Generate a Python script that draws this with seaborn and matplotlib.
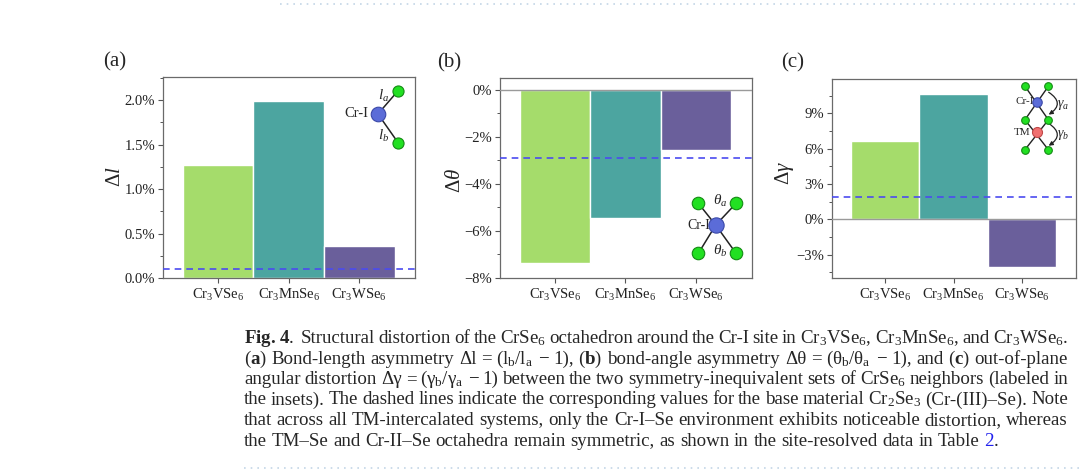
import matplotlib
matplotlib.use("Agg")
import matplotlib.pyplot as plt
import matplotlib.ticker as mticker
from matplotlib.lines import Line2D
import pandas as pd
import seaborn as sns

# values (percent)
materials = ["Cr$_3$VSe$_6$", "Cr$_3$MnSe$_6$", "Cr$_3$WSe$_6$"]
delta_l = [1.27, 1.99, 0.36]
delta_theta = [-7.38, -5.45, -2.56]
delta_gamma = [6.62, 10.64, -4.02]
base_l = 0.10
base_theta = -2.92
base_gamma = 1.92
bar_colors = ["#a5dc6b", "#4ca5a0", "#6a5f9b"]

sns.set_theme(style="ticks")
plt.rcParams["font.family"] = ["Liberation Serif", "DejaVu Serif"]
plt.rcParams["mathtext.fontset"] = "custom"
plt.rcParams["mathtext.rm"] = "Liberation Serif"
plt.rcParams["mathtext.it"] = "Liberation Serif:italic"
plt.rcParams["mathtext.bf"] = "Liberation Serif:bold"

W, H = 1080, 471
fig = plt.figure(figsize=(10.8, 4.71), dpi=100)
fig.patch.set_facecolor("white")

df = pd.DataFrame({"material": materials, "dl": delta_l,
                   "dtheta": delta_theta, "dgamma": delta_gamma})


def fmt_a(v, p):
    return "%.1f%%" % v


def fmt_int(v, p):
    return ("%d%%" % int(round(v))).replace("-", "\u2212")


# (column, base value, ylim, major, minor, formatter, ylabel, tag, box px, label px, tag px)
panels = [
    ("dl", base_l, (0, 2.26), 0.5, 0.25, fmt_a, "\u0394$l$", "(a)",
     (163, 77, 415, 278), (115, 177), (103, 62)),
    ("dtheta", base_theta, (-8, 0.48), 2, 1, fmt_int, "\u0394$\\theta$", "(b)",
     (500, 78.3, 751.7, 277.7), (455, 180), (437, 63)),
    ("dgamma", base_gamma, (-4.96, 11.9), 3, 1.5, fmt_int, "\u0394$\\gamma$", "(c)",
     (831.7, 79.3, 1076, 277.7), (785, 173), (781, 63)),
]

axes = []
for col, base, ylim, major, minor, fmt, ylab, tag, box, lab, tg in panels:
    l, t, r, b = box
    ax = fig.add_axes([l / W, 1 - b / H, (r - l) / W, (b - t) / H])
    sns.barplot(data=df, x="material", y=col, hue="material", palette=bar_colors,
                width=1.0, saturation=1, legend=False, ax=ax, zorder=2)
    if col != "dl":
        ax.axhline(0, color="#9a9a9a", lw=1.0, zorder=3)
    ax.axhline(base, color="#4b4bf0", lw=1.2, ls=(0, (4, 3)), zorder=4)
    ax.set_xlim(-0.78, 2.79)
    ax.set_ylim(*ylim)
    ax.yaxis.set_major_locator(mticker.MultipleLocator(major))
    ax.yaxis.set_minor_locator(mticker.MultipleLocator(minor))
    ax.yaxis.set_major_formatter(mticker.FuncFormatter(fmt))
    ax.tick_params(axis="both", which="major", direction="out", length=3.5, width=0.8,
                   color="#555555", labelsize=10.5, labelcolor="#222222", pad=2)
    ax.tick_params(axis="x", which="major", pad=3)
    ax.tick_params(axis="y", which="minor", direction="out", length=2, width=0.7, color="#555555")
    ax.set_xlabel("")
    ax.set_ylabel("")
    for s in ax.spines.values():
        s.set_color("#6a6a6a")
        s.set_linewidth(0.9)
    fig.text(lab[0] / W, 1 - lab[1] / H, ylab, rotation=90, ha="center", va="center", fontsize=15)
    fig.text(tg[0] / W, 1 - tg[1] / H, tag, ha="left", va="center", fontsize=15)
    axes.append(ax)

GREEN, GEDGE = "#22e022", "#148a14"
BLUE, BEDGE = "#5b6cd8", "#3a48a8"
RED, REDGE = "#f07070", "#c04848"


def atom(ax, p, color, edge, ms):
    ax.plot([p[0]], [p[1]], "o", transform=ax.transAxes, ms=ms, mfc=color, mec=edge,
            mew=0.8, clip_on=False, zorder=6)


def bond(ax, p, q, lw=1.1):
    ax.plot([p[0], q[0]], [p[1], q[1]], color="#222222", lw=lw, transform=ax.transAxes,
            clip_on=False, zorder=5)


# inset (a)
ax = axes[0]
c, g1, g2 = (0.853, 0.816), (0.933, 0.932), (0.933, 0.673)
bond(ax, c, g1)
bond(ax, c, g2)
atom(ax, c, BLUE, BEDGE, 10.5)
atom(ax, g1, GREEN, GEDGE, 8)
atom(ax, g2, GREEN, GEDGE, 8)
ax.text(0.813, 0.816, "Cr-I", transform=ax.transAxes, ha="right", va="center", fontsize=10.5)
ax.text(0.874, 0.905, "$l_a$", transform=ax.transAxes, ha="center", va="center", fontsize=11)
ax.text(0.874, 0.705, "$l_b$", transform=ax.transAxes, ha="center", va="center", fontsize=11)

# inset (b)
ax = axes[1]
c = (0.857, 0.264)
greens = [(0.788, 0.373), (0.938, 0.373), (0.788, 0.122), (0.938, 0.122)]
for g in greens:
    bond(ax, c, g)
atom(ax, c, BLUE, BEDGE, 11)
for g in greens:
    atom(ax, g, GREEN, GEDGE, 9)
ax.text(0.835, 0.264, "Cr-I", transform=ax.transAxes, ha="right", va="center", fontsize=10)
ax.text(0.874, 0.385, "$\\theta_a$", transform=ax.transAxes, ha="center", va="center", fontsize=11)
ax.text(0.874, 0.135, "$\\theta_b$", transform=ax.transAxes, ha="center", va="center", fontsize=11)

# inset (c)
ax = axes[2]
xl, xr = 0.791, 0.887
xm = (xl + xr) / 2
top, mid, bot = 0.965, 0.796, 0.645
blue_c, red_c = (xm, 0.886), (xm, 0.734)
bond(ax, (xl, top), (xr, mid), 1.0)
bond(ax, (xr, top), (xl, mid), 1.0)
bond(ax, (xl, mid), (xr, bot), 1.0)
bond(ax, (xr, mid), (xl, bot), 1.0)
atom(ax, blue_c, BLUE, BEDGE, 6.8)
atom(ax, red_c, RED, REDGE, 7.2)
for g in [(xl, top), (xr, top), (xl, mid), (xr, mid), (xl, bot), (xr, bot)]:
    atom(ax, g, GREEN, GEDGE, 5.5)
ax.text(0.827, 0.886, "Cr-I", transform=ax.transAxes, ha="right", va="center", fontsize=8)
ax.text(0.812, 0.734, "TM", transform=ax.transAxes, ha="right", va="center", fontsize=8)
for y0, y1, lab, ly in [(0.935, 0.822, "$\\gamma_a$", 0.872), (0.778, 0.665, "$\\gamma_b$", 0.720)]:
    ax.annotate("", xy=(0.888, y1), xytext=(0.888, y0), xycoords="axes fraction",
                arrowprops=dict(arrowstyle="-|>", connectionstyle="arc3,rad=-0.75",
                                lw=0.9, color="#222222", mutation_scale=6,
                                shrinkA=0, shrinkB=0))
    ax.text(0.922, ly, lab, transform=ax.transAxes, ha="left", va="center", fontsize=10)

# caption
CAP = 13.6
renderer = fig.canvas.get_renderer()


def caption_line(words, y, justify=True, x0=244, x1=1068):
    texts = [fig.text(x0 / W, 1 - y / H, w, fontsize=CAP, va="baseline", ha="left") for w in words]
    widths = [t.get_window_extent(renderer).width for t in texts]
    if justify:
        gap = (x1 - x0 - sum(widths)) / (len(words) - 1)
    else:
        gap = CAP * 100 / 72 * 0.25
    x = x0
    for t, w in zip(texts, widths):
        t.set_x(x / W)
        x += w + gap
    return x - gap


caption = [
    "$\\mathbf{Fig.}$ $\\mathbf{4}$.  Structural distortion of the CrSe$_6$ octahedron around the Cr-I site in "
    "Cr$_3$VSe$_6$, Cr$_3$MnSe$_6$, and Cr$_3$WSe$_6$.",
    "($\\mathbf{a}$) Bond-length asymmetry \u0394l = (l$_\\mathrm{b}$/l$_\\mathrm{a}$ \u2212 1), ($\\mathbf{b}$) "
    "bond-angle asymmetry \u0394\u03b8 = (\u03b8$_\\mathrm{b}$/\u03b8$_\\mathrm{a}$ \u2212 1), and ($\\mathbf{c}$) out-of-plane",
    "angular distortion \u0394\u03b3 = (\u03b3$_\\mathrm{b}$/\u03b3$_\\mathrm{a}$ \u2212 1) between the two "
    "symmetry-inequivalent sets of CrSe$_6$ neighbors (labeled in",
    "the insets). The dashed lines indicate the corresponding values for the base material "
    "Cr$_2$Se$_3$ (Cr-(III)\u2013Se). Note",
    "that across all TM-intercalated systems, only the Cr-I\u2013Se environment exhibits noticeable distortion, whereas",
    "the TM\u2013Se and Cr-II\u2013Se octahedra remain symmetric, as shown in the site-resolved data in Table",
]
baselines = [343, 363.5, 384, 404.5, 425, 445.7]
for i, (line, yb) in enumerate(zip(caption, baselines)):
    end = caption_line(line.split(" "), yb, justify=(i < len(caption) - 1))
x2 = end + CAP * 100 / 72 * 0.25
t2 = fig.text(x2 / W, 1 - baselines[-1] / H, "2", color="#2222ee", fontsize=CAP, va="baseline")
x3 = x2 + t2.get_window_extent(renderer).width
fig.text(x3 / W, 1 - baselines[-1] / H, ".", fontsize=CAP, va="baseline")

# dotted page rules
fig.add_artist(Line2D([280 / W, 1.0], [1 - 4 / H] * 2, ls=(0, (1, 3)), color="#c4d6e6", lw=1.2))
fig.add_artist(Line2D([244 / W, 1.0], [1 - 468 / H] * 2, ls=(0, (1, 3)), color="#c4d6e6", lw=1.2))

fig.savefig("out.png", dpi=100)
